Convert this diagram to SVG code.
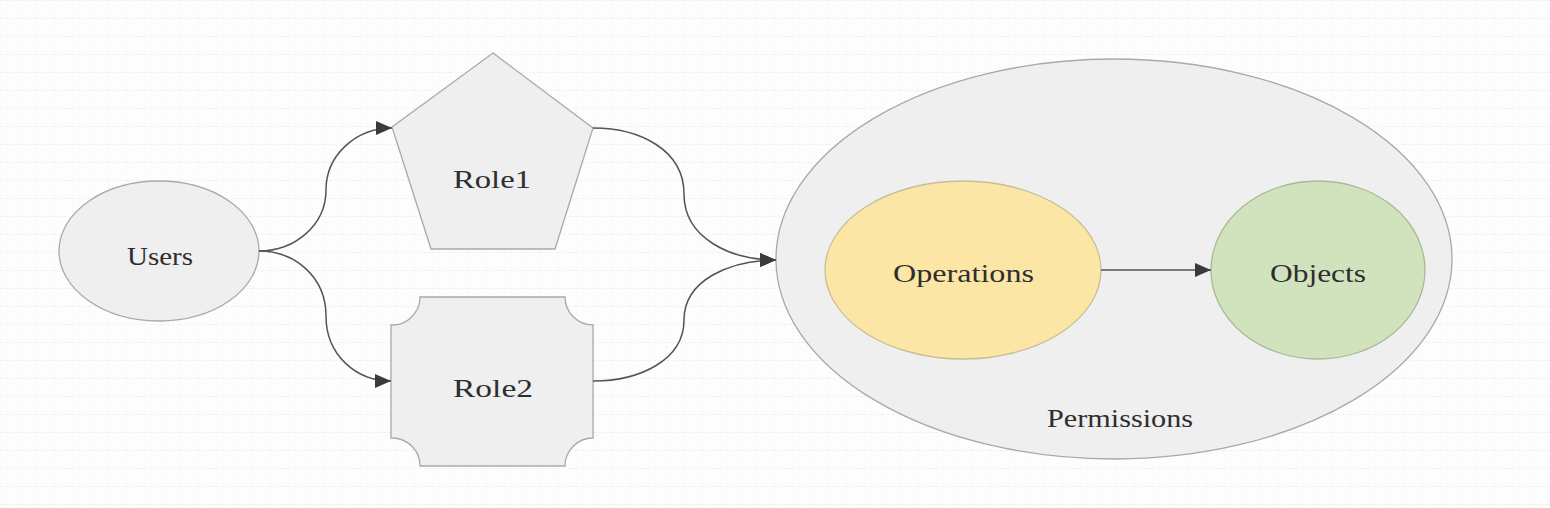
<svg xmlns="http://www.w3.org/2000/svg" width="1550" height="508" viewBox="0 0 1550 508">
<style>
.node{fill:#efefef;stroke:#a9a9a9;stroke-width:1.3}
.ops{fill:#fbe6a6;stroke:#c9bd98;stroke-width:1.3}
.obj{fill:#d1e3bd;stroke:#a7b997;stroke-width:1.3}
.lbl{font-family:'Liberation Serif','Times New Roman',serif;font-size:25px;fill:#2e2e2e;text-anchor:middle}
.edge{fill:none;stroke:#555;stroke-width:1.5;marker-end:url(#arr)}
</style>
<defs>
<pattern id="grid" width="18" height="18" patternUnits="userSpaceOnUse">
<path d="M0 0.5H18" stroke="#f0f0f3" stroke-width="1" stroke-dasharray="3 2"/>
<path d="M0.5 0V18" stroke="#f3f3f5" stroke-width="1" stroke-dasharray="1 3"/>
</pattern>
<marker id="arr" markerWidth="16" markerHeight="14" refX="16" refY="7" orient="auto" markerUnits="userSpaceOnUse">
<path d="M0,0 L16,7 L0,14 Z" fill="#3a3a3a"/>
</marker>
</defs>
<rect width="1550" height="508" fill="#fdfdfd"/>
<rect width="1550" height="508" fill="url(#grid)"/>
<g id="permissions">
<ellipse class="node" cx="1114" cy="259" rx="338" ry="200"/>
<text class="lbl" font-family="Liberation Serif, serif" x="1120" y="427" textLength="146" lengthAdjust="spacingAndGlyphs">Permissions</text>
</g>
<g id="users">
<ellipse class="node" cx="159" cy="251" rx="100" ry="70"/>
<text class="lbl" font-family="Liberation Serif, serif" x="160" y="265" textLength="66" lengthAdjust="spacingAndGlyphs">Users</text>
</g>
<g id="role1">
<polygon class="node" points="493,53 593,128 555,249 431,249 392,127"/>
<text class="lbl" font-family="Liberation Serif, serif" x="492" y="188" textLength="78" lengthAdjust="spacingAndGlyphs">Role1</text>
</g>
<g id="role2">
<path class="node" d="M420,297 H565 A28,28 0 0 0 593,325 V438 A28,28 0 0 0 565,466 H420 A28,28 0 0 0 391,438 V325 A28,28 0 0 0 420,297 Z"/>
<text class="lbl" font-family="Liberation Serif, serif" x="493" y="397" textLength="80" lengthAdjust="spacingAndGlyphs">Role2</text>
</g>
<g id="operations">
<ellipse class="ops" cx="963" cy="270" rx="138" ry="89"/>
<text class="lbl" font-family="Liberation Serif, serif" x="963.5" y="282" textLength="141" lengthAdjust="spacingAndGlyphs">Operations</text>
</g>
<g id="objects">
<ellipse class="obj" cx="1318" cy="270" rx="107" ry="89"/>
<text class="lbl" font-family="Liberation Serif, serif" x="1318" y="282" textLength="96" lengthAdjust="spacingAndGlyphs">Objects</text>
</g>
<g id="connectors">
<path class="edge" d="M259,251 C295,251 326,225 326,190 C326,155 356,128 392,128"/>
<path class="edge" d="M259,251 C295,251 326,277 326,316 C326,355 356,381 391,381"/>
<path class="edge" d="M593,128 C640,128 684,150 684,194 C684,238 730,260 776,260"/>
<path class="edge" d="M593,381 C640,381 684,360 684,320 C684,280 730,260 776,260"/>
<path class="edge" d="M1101,270 H1211"/>
</g>
</svg>
